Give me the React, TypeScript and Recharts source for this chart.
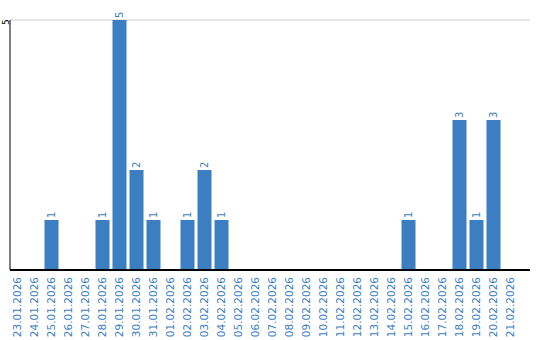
import React from 'react';
import { BarChart, Bar, XAxis, YAxis, CartesianGrid, LabelList } from 'recharts';

const dates = [
  '23.01.2026', '24.01.2026', '25.01.2026', '26.01.2026', '27.01.2026', '28.01.2026',
  '29.01.2026', '30.01.2026', '31.01.2026', '01.02.2026', '02.02.2026', '03.02.2026',
  '04.02.2026', '05.02.2026', '06.02.2026', '07.02.2026', '08.02.2026', '09.02.2026',
  '10.02.2026', '11.02.2026', '12.02.2026', '13.02.2026', '14.02.2026', '15.02.2026',
  '16.02.2026', '17.02.2026', '18.02.2026', '19.02.2026', '20.02.2026', '21.02.2026',
];
const counts = [0, 0, 1, 0, 0, 1, 5, 2, 1, 0, 1, 2, 1, 0, 0, 0, 0, 0, 0, 0, 0, 0, 0, 1, 0, 0, 3, 1, 3, 0];
const yTicks = [5];

const BLUE = '#3b7ec2';
const FONT = '"DejaVu Sans", Verdana, sans-serif';

const data = dates.map((date, i) => ({ date, count: counts[i] }));

// rotated date labels hanging below the axis
const DateTick = (props: any) => {
  const { x, payload } = props;
  const ty = 277;
  return (
    <text
      x={x}
      y={ty}
      transform={`rotate(-90, ${x}, ${ty})`}
      textAnchor="end"
      dominantBaseline="central"
      fill={BLUE}
      fontSize={10.5}
      fontFamily={FONT}
    >
      {payload.value}
    </text>
  );
};

const ValueTick = (props: any) => {
  const { y, payload } = props;
  const tx = 6;
  return (
    <text
      x={tx}
      y={y + 2}
      transform={`rotate(-90, ${tx}, ${y + 2})`}
      textAnchor="middle"
      dominantBaseline="central"
      fill="#000"
      fontSize={9}
      fontFamily={FONT}
    >
      {payload.value}
    </text>
  );
};

const BarValue = (props: any) => {
  const { x, y, width, value } = props;
  if (!value) return null;
  const cx = x + width / 2;
  const ty = y - 2;
  return (
    <text
      x={cx}
      y={ty}
      transform={`rotate(-90, ${cx}, ${ty})`}
      textAnchor="start"
      dominantBaseline="central"
      fill={BLUE}
      fontSize={10}
      fontFamily={FONT}
    >
      {value}
    </text>
  );
};

export default function App() {
  return (
    <div style={{ position: 'absolute', left: 0, top: 0, background: '#fff' }}>
      <BarChart
        width={540}
        height={340}
        data={data}
        margin={{ top: 20, right: 10, left: 0, bottom: 0 }}
        barSize={14}
      >
        <CartesianGrid horizontal vertical={false} stroke="#cccccc" />
        <XAxis
          dataKey="date"
          interval={0}
          height={70}
          tickLine={false}
          axisLine={{ stroke: '#000', strokeWidth: 2 }}
          tick={<DateTick />}
          padding={{ left: -1.5, right: 11.5 }}
        />
        <YAxis
          width={10}
          domain={[0, 5]}
          ticks={yTicks}
          tickLine={false}
          axisLine={{ stroke: '#000', strokeWidth: 1 }}
          tick={<ValueTick />}
        />
        <Bar dataKey="count" fill={BLUE} isAnimationActive={false}>
          <LabelList dataKey="count" content={<BarValue />} />
        </Bar>
      </BarChart>
    </div>
  );
}
